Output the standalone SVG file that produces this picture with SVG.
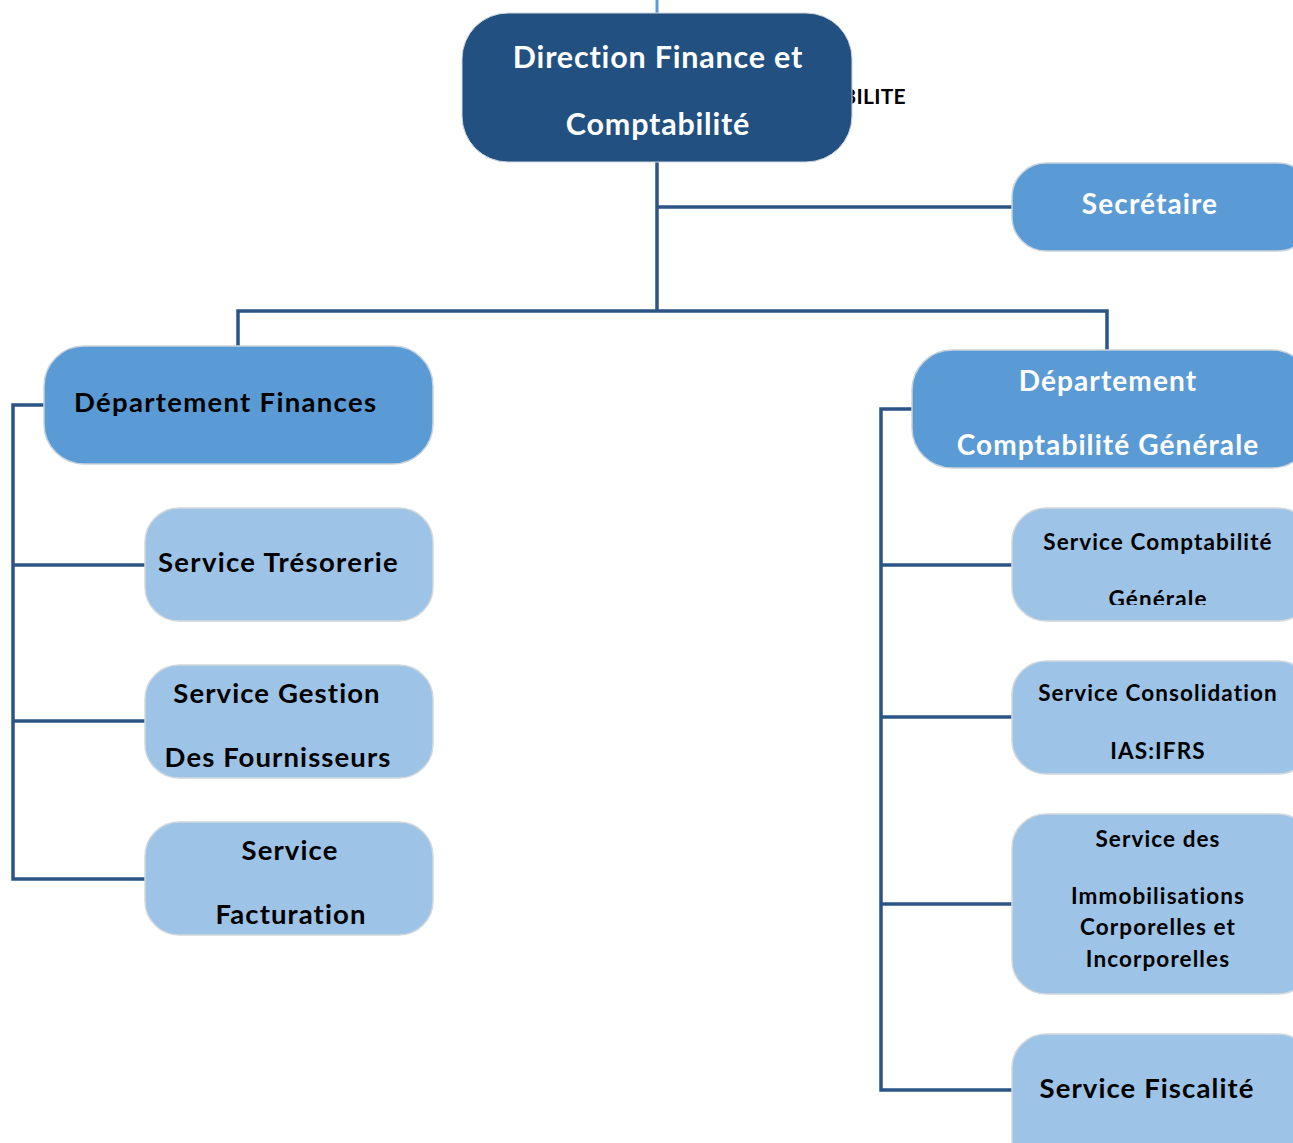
<svg xmlns="http://www.w3.org/2000/svg" width="1293" height="1143" viewBox="0 0 1293 1143">
  <style>
    .t { font-family: Lato, "Open Sans", "Liberation Sans", sans-serif; font-weight: bold; font-variant-ligatures: none; letter-spacing: 1.1px; }
    .w { fill: #ffffff; }
    .k { fill: #000000; }
    .c { text-anchor: middle; }
    .dark { fill: #215081; stroke: #d0d7de; stroke-width: 1; }
    .mid { fill: #5b9bd5; stroke: #c9d3dc; stroke-width: 1.5; }
    .light { fill: #9dc3e6; stroke: #d3d8dc; stroke-width: 1.5; }
    .ln { fill: none; stroke: #2a5585; stroke-width: 3.5; }
  </style>
  <defs>
    <clipPath id="clipCG"><rect x="1012" y="508" width="290" height="97"/></clipPath>
  </defs>

  <!-- incoming line above the head box -->
  <line x1="657" y1="0" x2="657" y2="16" stroke="#5b9bd5" stroke-width="3"/>

  <!-- partially hidden heading text behind the head box -->
  <text class="t k" x="906" y="104" font-size="21" text-anchor="end" style="letter-spacing:0.3px">COMPTABILITE</text>

  <g id="connectors">
    <path class="ln" d="M657 160 V311"/>
    <path class="ln" d="M657 207 H1014"/>
    <path class="ln" d="M238 348 V311 H1107 V352"/>
    <path class="ln" d="M46 405 H13 V879 H146"/>
    <path class="ln" d="M13 565 H146"/>
    <path class="ln" d="M13 721 H146"/>
    <path class="ln" d="M914 409 H881 V1090 H1013"/>
    <path class="ln" d="M881 565 H1013"/>
    <path class="ln" d="M881 717 H1013"/>
    <path class="ln" d="M881 904 H1013"/>
  </g>

  <g id="direction">
    <rect class="dark" x="462" y="13" width="390" height="149" rx="46"/>
    <text class="t w c" x="658" y="68" font-size="30.5" style="letter-spacing:0.8px">Direction Finance et</text>
    <text class="t w c" x="658" y="135" font-size="30.5" style="letter-spacing:0.8px">Comptabilité</text>
  </g>

  <g id="secretaire">
    <rect class="mid" x="1012" y="163" width="300" height="88" rx="34"/>
    <text class="t w c" x="1150" y="214" font-size="28">Secrétaire</text>
  </g>

  <g id="dept-finances">
    <rect class="mid" x="44" y="346" width="389" height="118" rx="40"/>
    <text class="t k" x="74" y="412" font-size="27.5" style="letter-spacing:1.3px">Département Finances</text>
  </g>

  <g id="dept-compta">
    <rect class="mid" x="912" y="350" width="400" height="118" rx="40"/>
    <text class="t w c" x="1108" y="391" font-size="28">Département</text>
    <text class="t w c" x="1108" y="455" font-size="28">Comptabilité Générale</text>
  </g>

  <g id="svc-tresorerie">
    <rect class="light" x="145" y="508" width="288" height="113" rx="34"/>
    <text class="t k" x="158" y="572" font-size="27.5" style="letter-spacing:1.3px">Service Trésorerie</text>
  </g>

  <g id="svc-fournisseurs">
    <rect class="light" x="145" y="665" width="288" height="113" rx="34"/>
    <text class="t k c" x="277" y="703" font-size="27.5">Service Gestion</text>
    <text class="t k c" x="278" y="767" font-size="27.5">Des Fournisseurs</text>
  </g>

  <g id="svc-facturation">
    <rect class="light" x="145" y="822" width="288" height="113" rx="34"/>
    <text class="t k c" x="290" y="860" font-size="27.5">Service</text>
    <text class="t k c" x="291" y="924" font-size="27.5">Facturation</text>
  </g>

  <g id="svc-compta-generale">
    <rect class="light" x="1012" y="508" width="300" height="113" rx="34"/>
    <text class="t k c" x="1158" y="550" font-size="22.5">Service Comptabilité</text>
    <text class="t k c" x="1158" y="607" font-size="22.5" clip-path="url(#clipCG)">Générale</text>
  </g>

  <g id="svc-consolidation">
    <rect class="light" x="1012" y="661" width="300" height="113" rx="34"/>
    <text class="t k c" x="1158" y="701" font-size="22.5">Service Consolidation</text>
    <text class="t k c" x="1158" y="759" font-size="22.5">IAS:IFRS</text>
  </g>

  <g id="svc-immobilisations">
    <rect class="light" x="1012" y="814" width="300" height="180" rx="34"/>
    <text class="t k c" x="1158" y="847" font-size="22.5">Service des</text>
    <text class="t k c" x="1158" y="904" font-size="22.5">Immobilisations</text>
    <text class="t k c" x="1158" y="935" font-size="22.5">Corporelles et</text>
    <text class="t k c" x="1158" y="967" font-size="22.5">Incorporelles</text>
  </g>

  <g id="svc-fiscalite">
    <rect class="light" x="1012" y="1034" width="300" height="140" rx="34"/>
    <text class="t k c" x="1147" y="1098" font-size="27.5">Service Fiscalité</text>
  </g>
</svg>
